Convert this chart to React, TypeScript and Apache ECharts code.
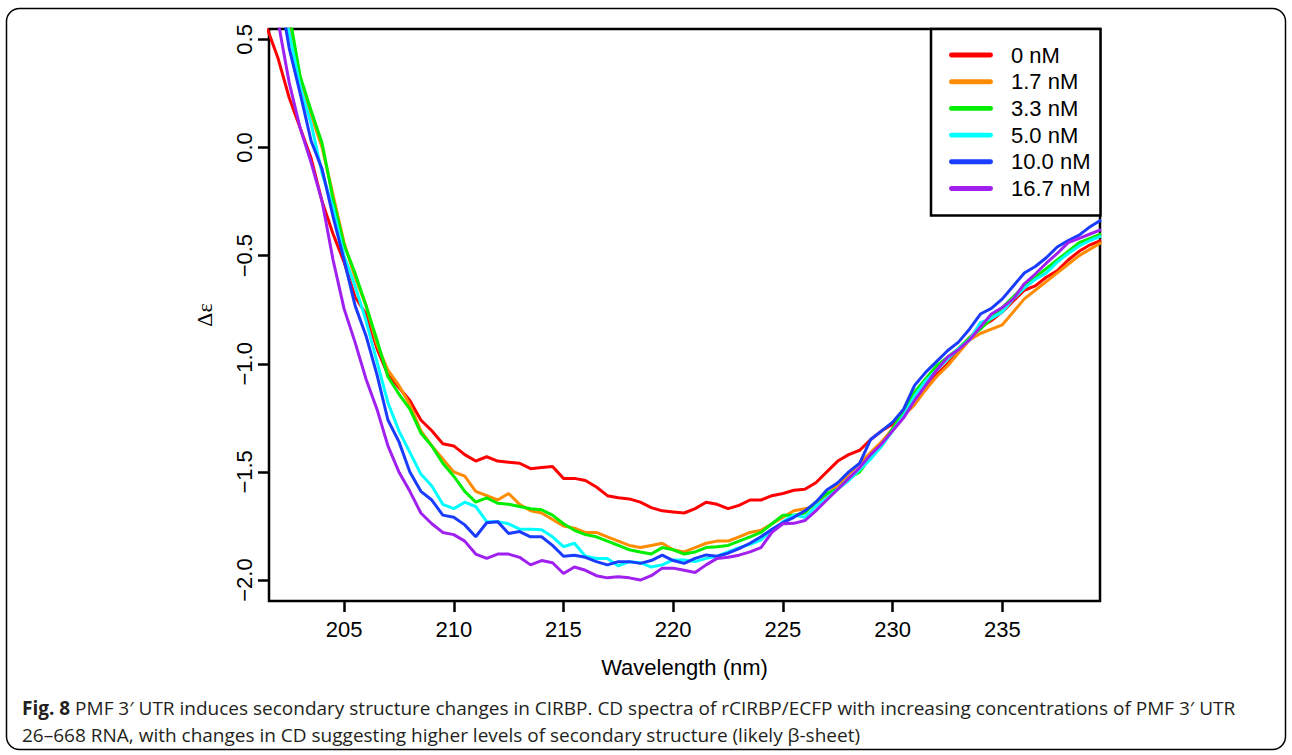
import { useEffect, useRef } from "react";
import * as echarts from "echarts";

const wavelengths = [
  201.5, 202, 202.5, 203, 203.5, 204, 204.5, 205, 205.5, 206, 206.5, 207, 207.5, 208, 208.5, 209, 209.5,
  210, 210.5, 211, 211.5, 212, 212.5, 213, 213.5, 214, 214.5, 215, 215.5, 216, 216.5, 217, 217.5, 218,
  218.5, 219, 219.5, 220, 220.5, 221, 221.5, 222, 222.5, 223, 223.5, 224, 224.5, 225, 225.5, 226, 226.5,
  227, 227.5, 228, 228.5, 229, 229.5, 230, 230.5, 231, 231.5, 232, 232.5, 233, 233.5, 234, 234.5, 235,
  235.5, 236, 236.5, 237, 237.5, 238, 238.5, 239, 239.5,
];

const nM0 = [
  0.55, 0.41, 0.23, 0.09, -0.05, -0.25, -0.40, -0.53, -0.69, -0.77, -0.93, -1.05, -1.11, -1.17, -1.26, -1.31, -1.37,
  -1.38, -1.42, -1.45, -1.43, -1.45, -1.455, -1.46, -1.485, -1.48, -1.475, -1.53, -1.53, -1.54, -1.57, -1.61, -1.62, -1.625,
  -1.64, -1.665, -1.68, -1.685, -1.69, -1.67, -1.64, -1.65, -1.67, -1.655, -1.63, -1.63, -1.61, -1.60, -1.585, -1.58, -1.55,
  -1.50, -1.45, -1.42, -1.40, -1.35, -1.31, -1.28, -1.23, -1.16, -1.12, -1.05, -1.00, -0.94, -0.88, -0.83, -0.80, -0.76,
  -0.71, -0.66, -0.64, -0.60, -0.57, -0.52, -0.48, -0.45, -0.43,
];

const nM1_7 = [
  1.10, 0.78, 0.55, 0.32, 0.15, 0.0, -0.22, -0.44, -0.60, -0.73, -0.91, -1.03, -1.10, -1.19, -1.31, -1.38, -1.44,
  -1.50, -1.52, -1.59, -1.61, -1.63, -1.60, -1.65, -1.68, -1.69, -1.72, -1.75, -1.76, -1.78, -1.78, -1.80, -1.82, -1.84,
  -1.85, -1.84, -1.83, -1.86, -1.87, -1.85, -1.83, -1.82, -1.82, -1.80, -1.78, -1.77, -1.74, -1.71, -1.68, -1.67, -1.66,
  -1.61, -1.56, -1.51, -1.46, -1.41, -1.36, -1.30, -1.24, -1.19, -1.12, -1.06, -1.01, -0.95, -0.89, -0.86, -0.84, -0.82,
  -0.76, -0.70, -0.66, -0.62, -0.58, -0.54, -0.50, -0.47, -0.44,
];

const nM3_3 = [
  1.15, 0.85, 0.62, 0.33, 0.17, 0.02, -0.24, -0.45, -0.58, -0.73, -0.89, -1.06, -1.14, -1.21, -1.32, -1.38, -1.46,
  -1.52, -1.59, -1.64, -1.62, -1.645, -1.65, -1.66, -1.67, -1.675, -1.70, -1.74, -1.77, -1.79, -1.80, -1.82, -1.84, -1.86,
  -1.87, -1.88, -1.85, -1.86, -1.88, -1.87, -1.85, -1.846, -1.84, -1.82, -1.80, -1.78, -1.74, -1.70, -1.70, -1.69, -1.64,
  -1.60, -1.58, -1.53, -1.50, -1.43, -1.38, -1.30, -1.22, -1.13, -1.07, -1.01, -0.97, -0.93, -0.88, -0.84, -0.79, -0.74,
  -0.69, -0.64, -0.60, -0.56, -0.52, -0.48, -0.44, -0.42, -0.40,
];

const nM5_0 = [
  1.10, 0.80, 0.53, 0.28, 0.11, -0.12, -0.28, -0.50, -0.64, -0.80, -0.99, -1.18, -1.31, -1.41, -1.51, -1.565, -1.65,
  -1.67, -1.64, -1.66, -1.73, -1.73, -1.74, -1.765, -1.765, -1.768, -1.80, -1.846, -1.83, -1.89, -1.90, -1.90, -1.935, -1.915,
  -1.92, -1.94, -1.93, -1.907, -1.907, -1.915, -1.90, -1.89, -1.87, -1.85, -1.835, -1.815, -1.77, -1.73, -1.70, -1.71, -1.66,
  -1.62, -1.58, -1.54, -1.49, -1.44, -1.38, -1.31, -1.24, -1.15, -1.08, -1.03, -0.98, -0.93, -0.89, -0.81, -0.79, -0.76,
  -0.70, -0.65, -0.61, -0.58, -0.53, -0.49, -0.455, -0.43, -0.41,
];

const nM10_0 = [
  1.20, 0.76, 0.46, 0.25, 0.03, -0.10, -0.32, -0.52, -0.73, -0.87, -1.05, -1.26, -1.36, -1.50, -1.59, -1.63, -1.70,
  -1.71, -1.745, -1.80, -1.735, -1.73, -1.785, -1.776, -1.80, -1.80, -1.84, -1.89, -1.885, -1.895, -1.915, -1.93, -1.915, -1.915,
  -1.923, -1.91, -1.885, -1.91, -1.923, -1.90, -1.884, -1.89, -1.876, -1.855, -1.83, -1.80, -1.765, -1.735, -1.71, -1.68, -1.64,
  -1.584, -1.55, -1.50, -1.46, -1.35, -1.31, -1.27, -1.21, -1.10, -1.04, -0.99, -0.94, -0.90, -0.84, -0.77, -0.744, -0.70,
  -0.64, -0.58, -0.55, -0.51, -0.46, -0.43, -0.405, -0.366, -0.335,
];

const nM16_7 = [
  0.90, 0.58, 0.30, 0.09, -0.07, -0.25, -0.52, -0.745, -0.90, -1.07, -1.21, -1.38, -1.50, -1.59, -1.69, -1.74, -1.78,
  -1.79, -1.82, -1.88, -1.90, -1.88, -1.88, -1.895, -1.93, -1.91, -1.92, -1.97, -1.94, -1.955, -1.98, -1.99, -1.985, -1.99,
  -2.00, -1.98, -1.945, -1.945, -1.955, -1.965, -1.93, -1.90, -1.895, -1.885, -1.87, -1.85, -1.78, -1.74, -1.738, -1.725, -1.68,
  -1.63, -1.58, -1.53, -1.48, -1.42, -1.37, -1.31, -1.25, -1.17, -1.10, -1.03, -0.97, -0.935, -0.89, -0.83, -0.77, -0.74,
  -0.70, -0.63, -0.585, -0.535, -0.49, -0.44, -0.42, -0.40, -0.38,
];

const seriesNames = ["0 nM", "1.7 nM", "3.3 nM", "5.0 nM", "10.0 nM", "16.7 nM"];
const seriesValues = [nM0, nM1_7, nM3_3, nM5_0, nM10_0, nM16_7];
const seriesColors = ["#FF0000", "#FF8C00", "#00EE00", "#00FFFF", "#1A3CFF", "#A020F0"];

const xTicks = [205, 210, 215, 220, 225, 230, 235];
const yTicks = [-2.0, -1.5, -1.0, -0.5, 0.0, 0.5];

const captionLine1 =
  "{b|Fig. 8} PMF 3\u2032 UTR induces secondary structure changes in CIRBP. CD spectra of rCIRBP/ECFP with increasing concentrations of PMF 3\u2032 UTR";
const captionLine2 =
  "26\u2013668 RNA, with changes in CD suggesting higher levels of secondary structure (likely \u03b2-sheet)";

const AXIS_FONT = "Liberation Sans, Arial, Helvetica, sans-serif";
const CAPTION_FONT = "Open Sans, Noto Sans, sans-serif";

export default function App() {
  const ref = useRef<HTMLDivElement>(null);

  useEffect(() => {
    if (!ref.current) return;
    const chart = echarts.init(ref.current, undefined, { renderer: "svg" });

    const series = seriesNames.map((name, k) => ({
      name,
      type: "line" as const,
      data: wavelengths.map((w, i) => [w, seriesValues[k][i]]),
      showSymbol: false,
      symbol: "none",
      clip: true,
      lineStyle: { width: 3, color: seriesColors[k] },
      itemStyle: { color: seriesColors[k] },
      emphasis: { disabled: true },
    }));

    chart.setOption({
      animation: false,
      backgroundColor: "#ffffff",
      grid: {
        left: 269,
        top: 29,
        width: 831,
        height: 572,
        show: true,
        borderColor: "#000",
        borderWidth: 2.5,
        containLabel: false,
        outerBoundsMode: "none",
      },
      xAxis: {
        type: "value",
        min: 201.58,
        max: 239.45,
        axisLine: { show: false, onZero: false },
        splitLine: { show: false },
        axisTick: {
          show: true,
          length: 11,
          lineStyle: { color: "#000", width: 2.5 },
          customValues: xTicks,
        },
        axisLabel: {
          customValues: xTicks,
          margin: 17,
          fontSize: 22,
          fontFamily: AXIS_FONT,
          color: "#000",
        },
        name: "Wavelength (nm)",
        nameLocation: "middle",
        nameGap: 55,
        nameTextStyle: { fontSize: 22, fontFamily: AXIS_FONT, color: "#000" },
      },
      yAxis: {
        type: "value",
        min: -2.097,
        max: 0.548,
        axisLine: { show: false, onZero: false },
        splitLine: { show: false },
        axisTick: {
          show: true,
          length: 11,
          lineStyle: { color: "#000", width: 2.5 },
          customValues: yTicks,
        },
        axisLabel: {
          customValues: yTicks,
          rotate: 90,
          margin: 14,
          fontSize: 22,
          fontFamily: AXIS_FONT,
          color: "#000",
          formatter: (v: number) => v.toFixed(1).replace("-", "\u2212"),
        },
        name: "\u0394\u03b5",
        nameLocation: "middle",
        nameGap: 54,
        nameRotate: 90,
        nameTextStyle: { fontSize: 22, fontFamily: "Liberation Serif, DejaVu Serif, serif", color: "#000" },
      },
      legend: {
        orient: "vertical",
        left: 931,
        top: 29,
        padding: [15, 10, 16, 18],
        itemWidth: 44,
        itemHeight: 5,
        itemGap: 4.7,
        borderColor: "#000",
        borderWidth: 2.5,
        backgroundColor: "#fff",
        icon: "path://M2,0 L42,0 A2.5,2.5 0 0 1 42,5 L2,5 A2.5,2.5 0 0 1 2,0 Z",
        selectedMode: false,
        textStyle: {
          fontSize: 22,
          fontFamily: AXIS_FONT,
          color: "#000",
          lineHeight: 22,
          padding: [0, 0, 0, 13],
        },
        data: seriesNames,
      },
      graphic: [
        {
          type: "rect",
          shape: { x: 6.5, y: 8.5, width: 1279, height: 741, r: 13 },
          style: { fill: "none", stroke: "#000", lineWidth: 1.5 },
          silent: true,
          z: -1,
        },
        {
          type: "text",
          x: 22,
          y: 694,
          style: {
            text: captionLine1 + "\n" + captionLine2,
            fontSize: 19,
            fontFamily: CAPTION_FONT,
            fill: "#231f20",
            lineHeight: 27,
            verticalAlign: "top",
            rich: {
              b: {
                fontSize: 19,
                fontWeight: "bold",
                fontFamily: CAPTION_FONT,
                fill: "#231f20",
                lineHeight: 27,
              },
            },
          },
          silent: true,
        },
      ],
      series,
    });

    return () => chart.dispose();
  }, []);

  return (
    <div
      ref={ref}
      style={{ position: "fixed", left: 0, top: 0, width: 1292, height: 755, background: "#fff" }}
    />
  );
}
